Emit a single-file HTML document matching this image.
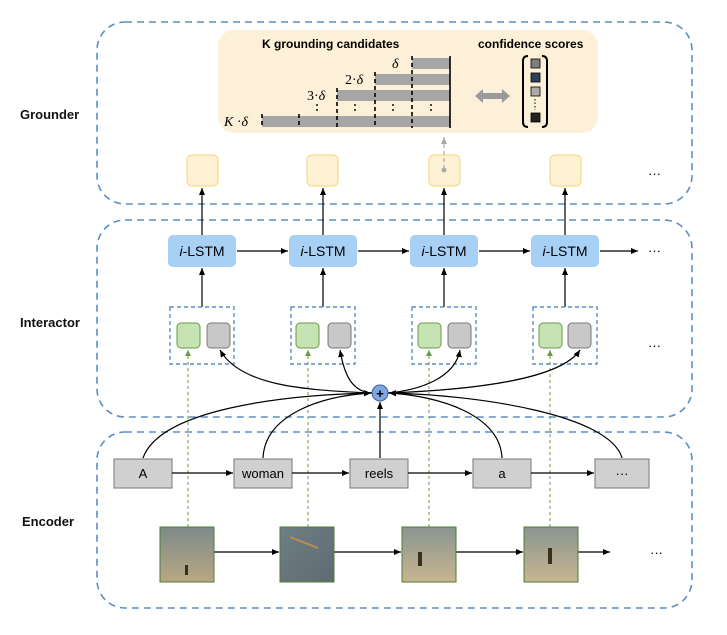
<!DOCTYPE html>
<html><head><style>
html,body{margin:0;padding:0;background:#fff;}
svg{display:block;font-family:"Liberation Sans",Arial,sans-serif;}
</style></head><body>
<svg width="727" height="635" viewBox="0 0 727 635" xmlns="http://www.w3.org/2000/svg">
<defs>
<marker id="ah" markerWidth="8" markerHeight="8" refX="7" refY="4" orient="auto" markerUnits="userSpaceOnUse"><path d="M0,1 L7,4 L0,7 z" fill="#000"/></marker>
<marker id="ag" markerWidth="7" markerHeight="7" refX="6" refY="3.5" orient="auto" markerUnits="userSpaceOnUse"><path d="M0,0.5 L6,3.5 L0,6.5 z" fill="#6a9a4a"/></marker>
<marker id="agr" markerWidth="8" markerHeight="8" refX="7" refY="4" orient="auto" markerUnits="userSpaceOnUse"><path d="M0,1 L7,4 L0,7 z" fill="#aaa"/></marker>
</defs>
<g fill="none" stroke="#5b8fc4" stroke-width="1.6" stroke-dasharray="7,5">
<rect x="97" y="22" width="595" height="182" rx="28"/>
<rect x="97" y="220" width="595" height="197" rx="28"/>
<rect x="97" y="432" width="595" height="176" rx="28"/>
</g>
<g font-weight="bold" font-size="13" fill="#111">
<text x="20" y="119">Grounder</text>
<text x="20" y="327">Interactor</text>
<text x="22" y="526">Encoder</text>
</g>
<!-- beige panel -->
<rect x="218" y="30" width="380" height="103" rx="16" fill="#fcf0d8"/>
<text x="262" y="48" font-size="12" font-weight="bold">K grounding candidates</text>
<text x="478" y="48" font-size="12" font-weight="bold">confidence scores</text>
<g fill="#a6a6a6">
<rect x="412" y="58" width="38" height="11"/>
<rect x="375" y="74" width="75" height="11"/>
<rect x="337" y="90" width="113" height="11"/>
<rect x="262" y="116" width="188" height="11"/>
</g>
<line x1="450" y1="56" x2="450" y2="128" stroke="#000" stroke-width="1.6"/>
<g stroke="#000" stroke-width="1.6" stroke-dasharray="4,3">
<line x1="262" y1="114" x2="262" y2="128"/>
<line x1="299" y1="114" x2="299" y2="128"/>
<line x1="337" y1="88" x2="337" y2="128"/>
<line x1="375" y1="72" x2="375" y2="128"/>
<line x1="412" y1="56" x2="412" y2="128"/>
</g>
<g stroke="#000" stroke-width="1.4" stroke-dasharray="2,3">
<line x1="317" y1="104" x2="317" y2="114"/><line x1="355" y1="104" x2="355" y2="114"/>
<line x1="393" y1="104" x2="393" y2="114"/><line x1="431" y1="104" x2="431" y2="114"/>
</g>
<g font-family="Liberation Serif,serif" font-style="italic" font-size="14">
<text x="392" y="68">δ</text>
<text x="345" y="84"><tspan font-style="normal">2·</tspan>δ</text>
<text x="307" y="100"><tspan font-style="normal">3·</tspan>δ</text>
<text x="224" y="126">K <tspan font-style="normal">·</tspan>δ</text>
</g>
<path d="M475,96 L483,89 L483,93 L502,93 L502,89 L510,96 L502,103 L502,99 L483,99 L483,103 z" fill="#9a9a9a"/>
<path d="M528,56 Q523,56 523,61 L523,122 Q523,127 528,127" fill="none" stroke="#000" stroke-width="2"/>
<path d="M542,56 Q547,56 547,61 L547,122 Q547,127 542,127" fill="none" stroke="#000" stroke-width="2"/>
<g stroke="#000" stroke-width="0.8">
<rect x="531" y="59" width="9" height="9" fill="#7f7f7f"/>
<rect x="531" y="73" width="9" height="9" fill="#2f3f5a"/>
<rect x="531" y="87" width="9" height="9" fill="#aaa"/>
<rect x="531" y="113" width="9" height="9" fill="#222"/>
</g>
<line x1="535" y1="99" x2="535" y2="110" stroke="#000" stroke-dasharray="1.5,2"/>
<!-- yellow boxes -->
<g fill="#fdf2d4" stroke="#f5dc8c" stroke-width="1.2">
<rect x="187" y="155" width="31" height="31" rx="5"/>
<rect x="307" y="155" width="31" height="31" rx="5"/>
<rect x="429" y="155" width="31" height="31" rx="5"/>
<rect x="550" y="155" width="31" height="31" rx="5"/>
</g>
<line x1="444" y1="169" x2="444" y2="137" stroke="#aaa" stroke-width="1.2" stroke-dasharray="4,3" marker-end="url(#agr)"/>
<circle cx="444" cy="170" r="2.5" fill="#aaa"/>
<text x="648" y="178" font-size="13">···</text>
<!-- i-LSTM -->
<g fill="#a8cff4">
<rect x="168" y="235" width="68" height="32" rx="5"/>
<rect x="289" y="235" width="68" height="32" rx="5"/>
<rect x="410" y="235" width="68" height="32" rx="5"/>
<rect x="531" y="235" width="68" height="32" rx="5"/>
</g>
<g font-size="14" text-anchor="middle">
<text x="202" y="256"><tspan font-style="italic">i</tspan>-LSTM</text>
<text x="323" y="256"><tspan font-style="italic">i</tspan>-LSTM</text>
<text x="444" y="256"><tspan font-style="italic">i</tspan>-LSTM</text>
<text x="565" y="256"><tspan font-style="italic">i</tspan>-LSTM</text>
</g>
<g stroke="#000" stroke-width="1.2" marker-end="url(#ah)">
<line x1="202" y1="235" x2="202" y2="188"/><line x1="323" y1="235" x2="323" y2="188"/>
<line x1="444" y1="235" x2="444" y2="188"/><line x1="565" y1="235" x2="565" y2="188"/>
<line x1="237" y1="251" x2="288" y2="251"/><line x1="358" y1="251" x2="409" y2="251"/>
<line x1="479" y1="251" x2="530" y2="251"/><line x1="600" y1="251" x2="638" y2="251"/>
<line x1="202" y1="307" x2="202" y2="268"/><line x1="323" y1="307" x2="323" y2="268"/>
<line x1="444" y1="307" x2="444" y2="268"/><line x1="565" y1="307" x2="565" y2="268"/>
</g>
<text x="648" y="255" font-size="13">···</text>
<!-- dashed groups -->
<g fill="none" stroke="#5b8fc4" stroke-width="1.4" stroke-dasharray="4,3">
<rect x="170" y="307" width="64" height="57"/>
<rect x="291" y="307" width="64" height="57"/>
<rect x="412" y="307" width="64" height="57"/>
<rect x="533" y="307" width="64" height="57"/>
</g>
<g stroke-width="1">
<rect x="177" y="323" width="23" height="25" rx="4" fill="#c6e3b4" stroke="#6a9a4a"/>
<rect x="207" y="323" width="23" height="25" rx="4" fill="#c8c8c8" stroke="#777"/>
<rect x="296" y="323" width="23" height="25" rx="4" fill="#c6e3b4" stroke="#6a9a4a"/>
<rect x="328" y="323" width="23" height="25" rx="4" fill="#c8c8c8" stroke="#777"/>
<rect x="418" y="323" width="23" height="25" rx="4" fill="#c6e3b4" stroke="#6a9a4a"/>
<rect x="448" y="323" width="23" height="25" rx="4" fill="#c8c8c8" stroke="#777"/>
<rect x="539" y="323" width="23" height="25" rx="4" fill="#c6e3b4" stroke="#6a9a4a"/>
<rect x="568" y="323" width="23" height="25" rx="4" fill="#c8c8c8" stroke="#777"/>
</g>
<text x="648" y="350" font-size="13">···</text>
<!-- green dashed links -->
<g stroke="#6a9a4a" stroke-width="1" stroke-dasharray="3,3" marker-end="url(#ag)">
<line x1="188" y1="527" x2="188" y2="350"/><line x1="308" y1="527" x2="308" y2="350"/>
<line x1="429" y1="527" x2="429" y2="350"/><line x1="550" y1="527" x2="550" y2="350"/>
</g>
<!-- curves to/from plus -->
<g fill="none" stroke="#000" stroke-width="1.2">
<path d="M372,393 C300,390 240,385 220,350" marker-end="url(#ah)"/>
<path d="M372,393 C355,392 345,380 340,350" marker-end="url(#ah)"/>
<path d="M388,393 C420,390 455,378 460,350" marker-end="url(#ah)"/>
<path d="M388,393 C470,390 560,380 580,350" marker-end="url(#ah)"/>
<path d="M143,458 C160,410 280,395 371,393" marker-end="url(#ah)"/>
<path d="M263,458 C265,415 320,396 371,393" marker-end="url(#ah)"/>
<path d="M502,458 C500,415 440,396 389,393" marker-end="url(#ah)"/>
<path d="M622,458 C610,415 480,395 389,393" marker-end="url(#ah)"/>
<line x1="380" y1="458" x2="380" y2="402" marker-end="url(#ah)"/>
</g>
<circle cx="380" cy="393" r="8" fill="#7ea6e0" stroke="#3a5f9a" stroke-width="1"/>
<text x="380" y="398" font-size="13" font-weight="bold" text-anchor="middle">+</text>
<!-- words -->
<g fill="#d0d0d0" stroke="#777" stroke-width="1">
<rect x="114" y="459" width="58" height="29"/>
<rect x="234" y="459" width="58" height="29"/>
<rect x="350" y="459" width="58" height="29"/>
<rect x="473" y="459" width="58" height="29"/>
<rect x="595" y="459" width="54" height="29"/>
</g>
<g font-size="13" text-anchor="middle">
<text x="143" y="478">A</text><text x="263" y="478">woman</text><text x="379" y="478">reels</text>
<text x="502" y="478">a</text><text x="622" y="478">···</text>
</g>
<g stroke="#000" stroke-width="1.2" marker-end="url(#ah)">
<line x1="172" y1="473" x2="233" y2="473"/><line x1="292" y1="473" x2="349" y2="473"/>
<line x1="408" y1="473" x2="472" y2="473"/><line x1="531" y1="473" x2="594" y2="473"/>
<line x1="214" y1="552" x2="279" y2="552"/><line x1="334" y1="552" x2="401" y2="552"/>
<line x1="456" y1="552" x2="523" y2="552"/><line x1="578" y1="552" x2="610" y2="552"/>
</g>
<!-- images -->
<defs>
<linearGradient id="g1" x1="0" y1="0" x2="0" y2="1"><stop offset="0" stop-color="#7d8a8a"/><stop offset="1" stop-color="#b8a882"/></linearGradient>
<linearGradient id="g2" x1="0" y1="0" x2="1" y2="1"><stop offset="0" stop-color="#6f7e86"/><stop offset="1" stop-color="#5e6c70"/></linearGradient>
<linearGradient id="g3" x1="0" y1="0" x2="0" y2="1"><stop offset="0" stop-color="#8a9590"/><stop offset="1" stop-color="#c8b590"/></linearGradient>
</defs>
<g stroke="#4f7a3a" stroke-width="1">
<rect x="160" y="527" width="54" height="55" fill="url(#g1)"/>
<rect x="280" y="527" width="54" height="55" fill="url(#g2)"/>
<rect x="402" y="527" width="54" height="55" fill="url(#g3)"/>
<rect x="524" y="527" width="54" height="55" fill="url(#g3)"/>
</g>
<path d="M290,537 L318,548" stroke="#c08a50" stroke-width="2"/>
<rect x="185" y="565" width="3" height="10" fill="#3a3020"/>
<rect x="418" y="552" width="4" height="14" fill="#3a3020"/>
<rect x="548" y="548" width="4" height="16" fill="#3a3020"/>
<text x="650" y="557" font-size="13">···</text>
</svg>
</body></html>
